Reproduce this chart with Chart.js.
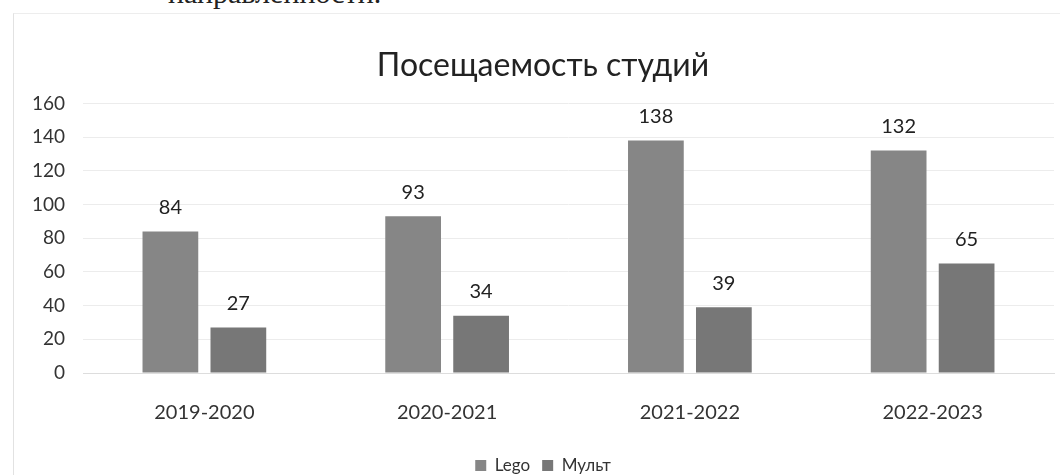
<!DOCTYPE html>
<html>
<head>
<meta charset="utf-8">
<script src="https://cdn.jsdelivr.net/npm/chart.js@4/dist/chart.umd.min.js"></script>
<style>
  html,body{margin:0;padding:0;background:#fff;}
  #wrap{position:relative;width:1060px;height:475px;overflow:hidden;}
  #frame{position:absolute;left:13px;top:13px;width:1100px;height:500px;border-left:1px solid #e2e2e2;border-top:1px solid #ededed;}
  #above{position:absolute;left:168px;top:-22px;font-family:"Liberation Serif",serif;font-size:30px;line-height:30px;color:#222;white-space:nowrap;}
  canvas{position:absolute;left:0;top:0;}
</style>
</head>
<body>
<div id="wrap">
  <div id="above">направленности.</div>
  <div id="frame"></div>
  <canvas id="c" width="1060" height="475"></canvas>
</div>
<script>
const categories = ["2019-2020", "2020-2021", "2021-2022", "2022-2023"];
const legoValues = [84, 93, 138, 132];
const multValues = [27, 34, 39, 65];
const seriesNames = ["Lego", "Мульт"];
const yTicks = [0, 20, 40, 60, 80, 100, 120, 140, 160];
const titleText = "Посещаемость студий";

const FONT = "Lato, 'Open Sans', sans-serif";

const valueLabels = {
  id: 'valueLabels',
  afterDatasetsDraw(chart) {
    const ctx = chart.ctx;
    ctx.save();
    ctx.fillStyle = '#222';
    ctx.font = '20px ' + FONT;
    ctx.textAlign = 'center';
    ctx.textBaseline = 'bottom';
    chart.data.datasets.forEach((ds, i) => {
      const meta = chart.getDatasetMeta(i);
      meta.data.forEach((bar, j) => {
        ctx.fillText(String(ds.data[j]), bar.x, bar.y - 14);
      });
    });
    ctx.restore();
  }
};

new Chart(document.getElementById('c'), {
  type: 'bar',
  data: {
    labels: categories,
    datasets: [
      { label: seriesNames[0], data: legoValues, backgroundColor: '#868686', categoryPercentage: 0.56, barPercentage: 0.82 },
      { label: seriesNames[1], data: multValues, backgroundColor: '#777777', categoryPercentage: 0.56, barPercentage: 0.82 }
    ]
  },
  options: {
    responsive: false,
    animation: false,
    layout: { padding: { left: 32, right: 6, top: 0, bottom: -9 } },
    plugins: {
      title: {
        display: true,
        text: titleText,
        color: '#222',
        font: { family: FONT, size: 32, weight: 'normal' },
        padding: { top: 46, bottom: 19 }
      },
      legend: {
        position: 'bottom',
        labels: {
          color: '#333',
          font: { family: FONT, size: 17 },
          boxWidth: 11,
          boxHeight: 11,
          padding: 12
        }
      },
      tooltip: { enabled: false }
    },
    scales: {
      x: {
        grid: { display: false },
        border: { color: '#dddddd' },
        ticks: { color: '#333', font: { family: FONT, size: 20 }, padding: 20 }
      },
      y: {
        min: 0, max: 160,
        afterBuildTicks(axis) { axis.ticks = yTicks.map(v => ({ value: v })); },
        afterFit(scale) { scale.width = 51; },
        grid: { color: '#ececec', drawTicks: false },
        border: { display: false },
        ticks: { color: '#333', font: { family: FONT, size: 19 }, padding: 18 }
      }
    }
  },
  plugins: [valueLabels]
});
</script>
</body>
</html>
